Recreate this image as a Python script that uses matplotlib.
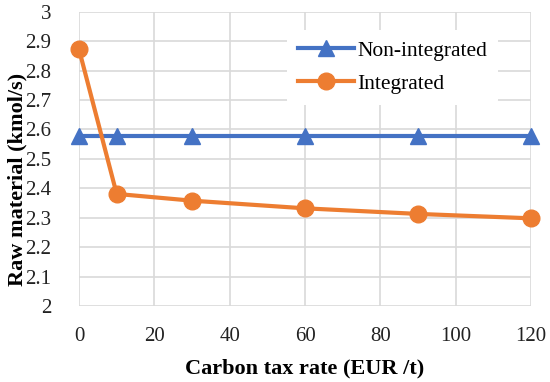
import matplotlib
matplotlib.use("Agg")
import matplotlib.pyplot as plt

tax_rate = [0, 10, 30, 60, 90, 120]
non_integrated = [2.578, 2.578, 2.578, 2.578, 2.578, 2.578]
integrated = [2.873, 2.381, 2.358, 2.332, 2.313, 2.298]

x_ticks = [0, 20, 40, 60, 80, 100, 120]
y_ticks = [2, 2.1, 2.2, 2.3, 2.4, 2.5, 2.6, 2.7, 2.8, 2.9, 3]
y_tick_labels = ["2", "2.1", "2.2", "2.3", "2.4", "2.5", "2.6", "2.7", "2.8", "2.9", "3"]

plt.rcParams["font.family"] = ["Liberation Serif", "DejaVu Serif"]

fig = plt.figure(figsize=(5.5, 3.82), dpi=100)
ax = fig.add_axes([0.1436, 0.199, 0.822, 0.770])

ax.plot(tax_rate, non_integrated, color="#4472C4", lw=3, marker="^",
        markersize=12, label="Non-integrated", zorder=3, clip_on=False)
ax.plot(tax_rate, integrated, color="#ED7D31", lw=3, marker="o",
        markersize=12, label="Integrated", zorder=4, clip_on=False)

ax.set_xlim(0, 120)
ax.set_ylim(2, 3)
ax.set_xticks(x_ticks)
ax.set_yticks(y_ticks)
ax.set_yticklabels(y_tick_labels)
ax.tick_params(length=0, labelsize=15, colors="#222222")
ax.tick_params(axis="x", pad=15)
ax.tick_params(axis="y", pad=20)

ax.grid(True, color="#D9D9D9", lw=1.2)
ax.set_axisbelow(True)
for s in ax.spines.values():
    s.set_visible(False)

ax.set_xlabel("Carbon tax rate (EUR /t)", fontsize=16, fontweight="bold", labelpad=9)
ax.set_ylabel("Raw material (kmol/s)", fontsize=16, fontweight="bold")
ax.yaxis.set_label_coords(-0.115, 0.43)

leg = ax.legend(loc="upper right", bbox_to_anchor=(0.95, 0.975), frameon=True,
                fontsize=15.5, handlelength=2.6, handletextpad=0.15,
                labelspacing=0.6, borderpad=0.5)
leg.get_frame().set_edgecolor("none")
leg.get_frame().set_facecolor("white")
leg.get_frame().set_alpha(1)

fig.savefig("out.png", dpi=100)
